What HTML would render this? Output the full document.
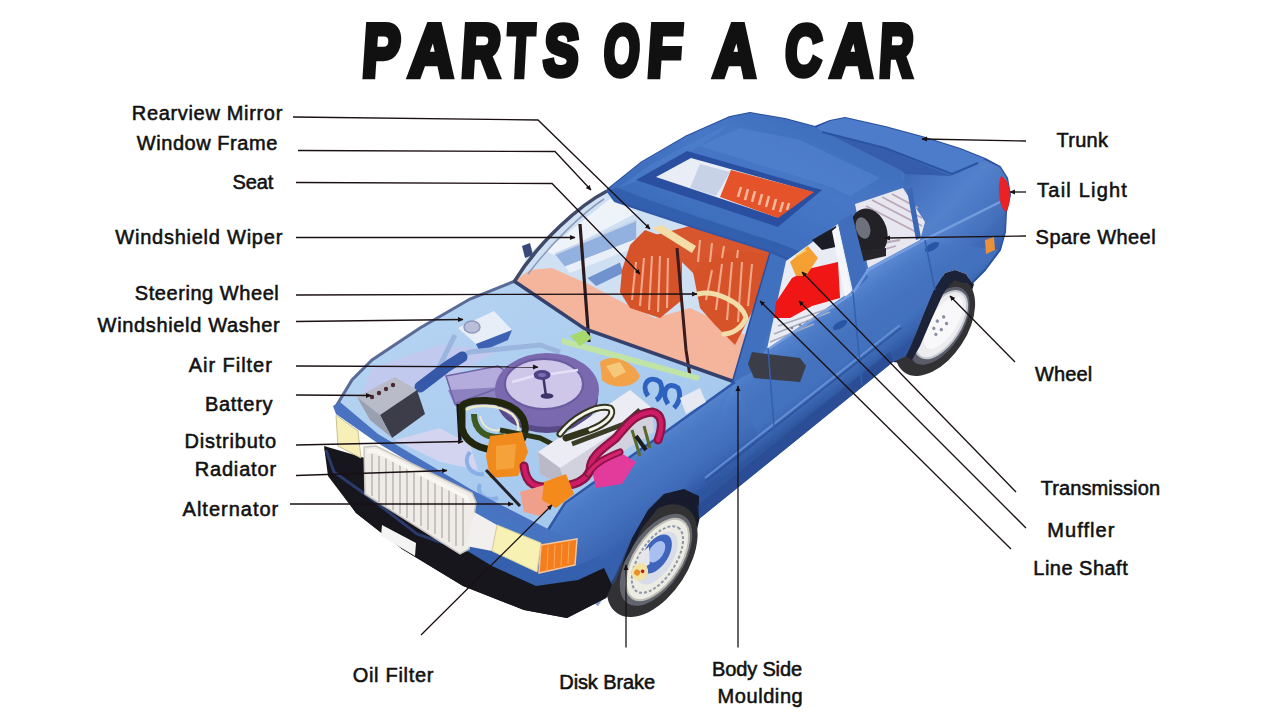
<!DOCTYPE html>
<html><head><meta charset="utf-8">
<style>
html,body{margin:0;padding:0;background:#fff;}
body{width:1280px;height:720px;overflow:hidden;font-family:"Liberation Sans",sans-serif;}
svg{display:block}
.lbl{font-family:"Liberation Sans",sans-serif;font-size:20px;fill:#111;stroke:#111;stroke-width:0.55px;}
.ln{stroke:#1a1014;stroke-width:1.3;fill:none;}
.ttl{font-family:"Liberation Sans",sans-serif;font-weight:bold;font-size:70px;fill:#111;stroke:#111;stroke-width:6px;stroke-linejoin:miter;}
</style></head><body>
<svg width="1280" height="720" viewBox="0 0 1280 720">
<defs>
<marker id="ah" viewBox="0 0 10 10" refX="9" refY="5" markerWidth="5.5" markerHeight="5.5" orient="auto-start-reverse" markerUnits="userSpaceOnUse"><path d="M0,0.5 L10,5 L0,9.5 z" fill="#1a1014"/></marker>
</defs>
<rect width="1280" height="720" fill="#fff"/>
<!--TITLE-->
<g id="title">
<g transform="translate(361.2,75.8) scale(0.796,1.056) skewX(-5)"><text class="ttl" x="0" y="0">P</text></g>
<g transform="translate(408.2,75.8) scale(0.880,1.056) skewX(-5)"><text class="ttl" x="0" y="0">A</text></g>
<g transform="translate(460.2,75.8) scale(0.768,1.056) skewX(-5)"><text class="ttl" x="0" y="0">R</text></g>
<g transform="translate(505.8,75.8) scale(0.635,1.056) skewX(-5)"><text class="ttl" x="0" y="0">T</text></g>
<g transform="translate(542.5,74.9) scale(0.745,1.018) skewX(-5)"><text class="ttl" x="0" y="0">S</text></g>
<g transform="translate(602.7,74.9) scale(0.655,1.018) skewX(-5)"><text class="ttl" x="0" y="0">O</text></g>
<g transform="translate(646.2,75.8) scale(0.800,1.056) skewX(-5)"><text class="ttl" x="0" y="0">F</text></g>
<g transform="translate(712.9,75.8) scale(0.837,1.056) skewX(-5)"><text class="ttl" x="0" y="0">A</text></g>
<g transform="translate(784.0,74.9) scale(0.721,1.018) skewX(-5)"><text class="ttl" x="0" y="0">C</text></g>
<g transform="translate(830.1,75.8) scale(0.837,1.056) skewX(-5)"><text class="ttl" x="0" y="0">A</text></g>
<g transform="translate(878.3,75.8) scale(0.666,1.056) skewX(-5)"><text class="ttl" x="0" y="0">R</text></g>
</g>
<!--CAR-->
<g id="car">
<defs>
<linearGradient id="gBody" x1="0" y1="0" x2="1" y2="1"><stop offset="0" stop-color="#4f7fcb"/><stop offset="1" stop-color="#3c69b5"/></linearGradient>
<linearGradient id="gRoof" x1="0" y1="1" x2="1" y2="0"><stop offset="0" stop-color="#3565b4"/><stop offset="0.6" stop-color="#4677c6"/><stop offset="1" stop-color="#3a68b4"/></linearGradient>
<linearGradient id="gBay" x1="0" y1="0" x2="1" y2="1"><stop offset="0" stop-color="#b9d6f3"/><stop offset="1" stop-color="#9fc4ec"/></linearGradient>
<filter id="soft" x="-5%" y="-5%" width="110%" height="110%"><feGaussianBlur stdDeviation="0.7"/></filter>
</defs>
<g filter="url(#soft)">
<!-- underbody / bumper shadow -->
<path d="M324,446 L330,476 L356,513 L402,549 L463,586 L524,610 L567,618 L606,598 L640,560 L600,520 L440,480 Z" fill="#15151f"/>
<!-- wheel wells -->
<path d="M702,508 L699,494 L684,487 L664,492 L648,508 L632,536 L616,578 L640,600 L690,560 Z" fill="#171a2c"/>
<path d="M893,362 L905,335 L922,297 L938,278 L953,272 L966,276 L974,284 L960,330 L920,365 Z" fill="#171a2c"/>
<!-- rear wheel -->
<g transform="translate(936,325) rotate(-57)">
<ellipse cx="-2" cy="0" rx="55" ry="32" fill="#303035"/>
<ellipse cx="1" cy="3" rx="44" ry="23" fill="#5a5d68"/>
<ellipse cx="3" cy="4" rx="38" ry="19" fill="#ededf0" stroke="#c2c6d0" stroke-width="2"/>
<ellipse cx="6" cy="5" rx="30" ry="13" fill="#f8f8fa"/>
<g fill="#8a90a2"><circle cx="-4" cy="0" r="1.7"/><circle cx="4" cy="-1" r="1.7"/><circle cx="11" cy="2" r="1.7"/><circle cx="-1" cy="7" r="1.7"/><circle cx="7" cy="8" r="1.7"/><circle cx="-8" cy="5" r="1.7"/></g>
</g>
<!-- front wheel -->
<g transform="translate(653,559) rotate(-57)">
<ellipse cx="-2" cy="0" rx="63" ry="36" fill="#303035"/>
<ellipse cx="1" cy="3" rx="52" ry="27" fill="#62656e"/>
<ellipse cx="2" cy="4" rx="46" ry="23" fill="#ecebe4" stroke="#bdbdb4" stroke-width="2"/>
<ellipse cx="2" cy="4" rx="38" ry="18" fill="none" stroke="#8e96a8" stroke-width="2" stroke-dasharray="3 2"/>
<ellipse cx="3" cy="3" rx="30" ry="15" fill="#d8dce8"/>
<ellipse cx="6" cy="0" rx="22" ry="12" fill="#3f63bc"/>
<ellipse cx="8" cy="-1" rx="12" ry="7" fill="#a8c0f0"/>
<path d="M-20,-6 L-4,-14 L8,-10 L-6,0 Z" fill="#e6e6ea"/>
<ellipse cx="-18" cy="-4" rx="9" ry="8" fill="#f2e2a2"/>
<circle cx="-20" cy="-6" r="3" fill="#e8902a"/>
<circle cx="-16" cy="-2" r="1.8" fill="#b02020"/>
</g>
<!-- main body silhouette -->
<path d="M607,190 L642,162 L685,137 L730,117 L750,113 L785,119 L815,127 L830,121 L845,118 L885,127 L922,137 L960,149 L985,159 L1000,167 L1007,178 L1010,195 L1006,212 L1005,232 L1000,250 L985,270 L972,283
 L966,274 L955,270 L945,273 L934,290 L922,318 L912,343 L906,356 L893,362
 L699,519 L699,496 L684,489 L664,494 L648,510 L632,538 L614,578 L600,596 L565,606 L520,596 L440,565 L440,500 L470,490 L560,500 L735,382 L700,330 L600,250 Z" fill="url(#gBody)"/>
<!-- body outline -->
<path d="M607,190 L642,162 L685,137 L730,117 L750,113 L785,119 L815,127 L830,121 L845,118 L885,127 L922,137 L960,149 L985,159 L1000,167 L1007,178 L1010,195 L1006,212 L1005,232 L1000,250 L985,270 L972,283" fill="none" stroke="#2a4f9e" stroke-width="2" stroke-linejoin="round"/>
<!-- rear wheel arch shadow -->
<path d="M906,356 L912,343 L922,318 L934,290 L945,273 L955,270 L966,274 L972,283 L965,283 L954,280 L944,292 L932,318 L920,346 L912,360 Z" fill="#1a2038"/>
<!-- front wheel arch shadow -->
<path d="M699,519 L699,496 L684,489 L664,494 L648,510 L632,538 L622,565 L630,552 L642,528 L658,508 L678,499 L690,502 L695,514 Z" fill="#151a2e"/>
<!-- body shading -->
<defs>
<linearGradient id="gSide" gradientUnits="userSpaceOnUse" x1="868" y1="268" x2="918" y2="337"><stop offset="0" stop-color="#6a96dc" stop-opacity="0.8"/><stop offset="0.25" stop-color="#5483ce" stop-opacity="0.45"/><stop offset="0.7" stop-color="#3a66b2" stop-opacity="0"/><stop offset="1" stop-color="#264c94" stop-opacity="0.75"/></linearGradient>
<linearGradient id="gFender" gradientUnits="userSpaceOnUse" x1="640" y1="430" x2="690" y2="500"><stop offset="0" stop-color="#6f9be0" stop-opacity="0.8"/><stop offset="0.4" stop-color="#5080cc" stop-opacity="0.3"/><stop offset="1" stop-color="#2b52a0" stop-opacity="0.55"/></linearGradient>
<linearGradient id="gRear" gradientUnits="userSpaceOnUse" x1="900" y1="170" x2="1000" y2="260"><stop offset="0" stop-color="#355fac" stop-opacity="0.7"/><stop offset="0.45" stop-color="#5f8cd6" stop-opacity="0.55"/><stop offset="1" stop-color="#2d55a2" stop-opacity="0.8"/></linearGradient>
</defs>
<!-- side panel -->
<path d="M768,348 L868,268 L920,240 L1000,200 L1005,232 L1000,250 L985,270 L972,283 L966,274 L955,270 L945,273 L934,290 L922,318 L912,343 L906,356 L893,362 L699,519 L699,496 L684,489 L735,382 Z" fill="url(#gSide)"/>
<!-- fender -->
<path d="M735,382 L657,438 L600,478 L565,503 L548,530 L577,539 L575,590 L598,606 L616,580 L632,538 L648,510 L664,494 L684,489 L699,496 L760,440 Z" fill="url(#gFender)"/>
<!-- rear quarter / C pillar -->
<path d="M903,188 L905,172 L952,176 L985,160 L1000,167 L1007,178 L1010,195 L1006,212 L1005,232 L1000,250 L920,240 L925,222 Z" fill="url(#gRear)"/>
<path d="M820,132 L885,149 L952,176 L905,174 L900,170 L815,128 Z" fill="#2f58a6" opacity="0.8"/>
<!-- rocker dark band -->
<path d="M893,362 L699,519 L697,506 L890,351 Z" fill="#27488e" opacity="0.5"/>
<!-- body side moulding -->
<path d="M705,478 L900,325" stroke="#6d97dc" stroke-width="2" fill="none" opacity="0.8"/>
<path d="M706,481 L901,328" stroke="#2a4c94" stroke-width="1.5" fill="none" opacity="0.8"/>
<!-- ===== engine bay ===== -->
<path d="M335,408 L352,380 L372,360 L420,328 L470,299 L515,281 L585,328 L735,382 L657,438 L600,478 L565,503 L548,530 L470,490 L377,434 Z" fill="url(#gBay)"/>
<!-- left fender edge (thin) -->
<path d="M335,408 L352,380 L372,360 L420,328 L470,299 L515,281" fill="none" stroke="#5a6a96" stroke-width="3"/>
<!-- ===== windshield interior ===== -->
<path d="M607,192 L565,220 L528,255 L514,282 L585,328 L735,382 L776,250 L700,227 L642,208 Z" fill="#cfe0f2"/>
<!-- far side door interior -->
<path d="M545.0,251.2 L610.0,198.8 L637.5,212.5 L555.0,255.0 Z" fill="#eef3fa"/>
<path d="M555.0,254.2 L636.2,220.0 L636.2,239.0 L565.0,266.5 Z" fill="#93b1df"/>
<path d="M565.0,266.5 L636.2,239.0 L633.8,248.0 L570.0,273.0 Z" fill="#e9eff8"/>
<path d="M587.5,278.0 L620.0,262.5 L623.0,273.0 L596.2,286.0 Z" fill="#6f93cf"/>
<path d="M555.0,254.2 L636.2,220.0" stroke="#c9d6ea" stroke-width="2" fill="none"/>
<!-- dashboard -->
<path d="M516,280 L530,270 L552,268 L590,285 L622,302 L655,318 L690,308 L720,322 L745,335 L735,382 L585,330 Z" fill="#f5b49c"/>
<!-- rear seats -->
<path d="M655,235 L690,226 L770,250 L780,262 L772,290 L700,280 Z" fill="#d8572f"/>
<!-- front seat left -->
<path d="M622,270 L630,245 L645,230 L672,240 L682,262 L682,300 L660,318 L630,308 L620,292 Z" fill="#d6532b"/>
<!-- front seat right -->
<path d="M693,272 L705,258 L732,250 L768,254 L772,270 L752,312 L735,345 L715,325 L700,308 Z" fill="#d6532b"/>
<g stroke="#f2a888" stroke-width="2.1" fill="none"><path d="M636,262 L632,300"/><path d="M644,258 L640,306"/><path d="M652,256 L649,310"/><path d="M660,256 L658,312"/><path d="M668,258 L667,308"/><path d="M712,270 L706,300"/><path d="M722,264 L716,310"/><path d="M732,262 L727,320"/><path d="M742,262 L738,322"/><path d="M752,264 L748,306"/><path d="M700,240 L698,262"/><path d="M712,243 L710,262"/><path d="M724,246 L722,258"/><path d="M738,250 L737,258"/></g>
<!-- steering wheel -->
<path d="M698,294 C715,290 742,302 746,318 C742,328 732,334 724,334" fill="none" stroke="#f2dca8" stroke-width="5" stroke-linecap="round"/>
<!-- rearview mirror -->
<path d="M652,228 L662,225 L696,246 L692,253 Z" fill="#f4dca6"/>
<!-- wipers -->
<path d="M580,224 L589,342" stroke="#2a1a1e" stroke-width="3.2" fill="none"/>
<path d="M677,248 L686,350 L690,376" stroke="#3a1a1a" stroke-width="3" fill="none"/>
<!-- cowl line -->
<path d="M514,281 L585,329 L735,382" fill="none" stroke="#34416c" stroke-width="3.5"/>
<path d="M562,338 L600,348 L700,376 L698,381 L562,344 Z" fill="#bfe4a6"/><path d="M570,336 l14,-6 l8,8 l-12,8 z" fill="#a6d86c"/>
<!-- left A pillar -->
<path d="M607,191 C580,205 540,240 514,282" fill="none" stroke="#3f4a68" stroke-width="3.5"/><path d="M604,199 C584,212 552,242 528,274" fill="none" stroke="#8b9bbd" stroke-width="1.5"/>
<path d="M522,246 l8,-3 l3,12 l-8,3 z" fill="#3b4a78"/>
<!-- right A pillar -->
<path d="M771,249 L732,383 L752,372 L796,262 Z" fill="#3f6fbe"/><path d="M771,249 L732,383" stroke="#2c509c" stroke-width="1.5" fill="none"/>
<!-- ===== roof ===== -->
<path d="M607,190 L642,162 L685,137 L730,117 L750,113 L785,119 L815,127 L900,170 L905,186 L858,200 L800,264 L772,252 L700,229 L642,210 L615,201 Z" fill="url(#gRoof)"/>
<path d="M607,190 L615,201 L642,210 L700,229 L772,252 L800,264" fill="none" stroke="#2f57a6" stroke-width="2.5"/>
<!-- roof lip + highlight -->
<path d="M607,190 L615,201 L642,210 L700,229 L772,252 L800,264 L806,254 L778,243 L704,219 L646,199 L618,188 Z" fill="#315cab" opacity="0.85"/>
<path d="M740,128 L800,140 L880,178 L850,196 L828,186 L700,146 Z" fill="#5585d2" opacity="0.55"/>
<path d="M618,188 L650,165 L690,143 L730,124 L700,146 L640,180 Z" fill="#5585d2" opacity="0.4"/>
<!-- sunroof -->
<path d="M687,151 L822,190 L778,227 L636,180 Z" fill="#2b50a0"/>
<path d="M691,158 L812,192 L776,217 L656,177 Z" fill="#e9eef6"/>
<path d="M731,170 L814,192 L778,218 L720,197 Z" fill="#e4522a"/>
<path d="M700,164 L730,172 L716,196 L690,188 Z" fill="#c7d2e6"/>
<g stroke="#f6b898" stroke-width="2.6"><path d="M738,197 l3,-10"/><path d="M745,200 l3,-11"/><path d="M752,202 l3,-11"/><path d="M759,205 l3,-11"/><path d="M766,207 l3,-11"/><path d="M773,210 l3,-11"/><path d="M780,212 l3,-10"/><path d="M787,210 l2,-7"/></g>
<!-- ===== side windows ===== -->
<path d="M786,261 L838,224 L853,290 L767,349 Z" fill="#e9ecf4"/>
<path d="M812,240 L836,226 L840,246 L822,250 Z" fill="#1d1d26"/>
<path d="M776,302 L792,278 L812,268 L838,262 L840,298 L812,306 L790,318 L774,318 Z" fill="#f01414"/>
<path d="M790,262 L808,246 L818,258 L806,276 L796,276 Z" fill="#f4a030"/>
<path d="M796,256 l10,-6" stroke="#f8d070" stroke-width="2"/>
<g stroke="#a9adbc" stroke-width="1.6"><path d="M778,326 L836,306"/><path d="M774,334 L830,312"/><path d="M770,342 L814,324"/></g>
<g fill="#7e8294"><circle cx="792" cy="328" r="1.3"/><circle cx="800" cy="325" r="1.3"/><circle cx="808" cy="322" r="1.3"/><circle cx="816" cy="319" r="1.3"/></g>
<path d="M855,204 L903,188 L925,222 L920,240 L868,268 Z" fill="#e8e6ee"/>
<g stroke="#b9a8bc" stroke-width="1.8"><path d="M872,200 L922,226"/><path d="M866,206 L920,234"/><path d="M882,197 L922,218"/><path d="M892,194 L918,208"/><path d="M866,246 L900,240"/><path d="M867,254 L896,246"/></g>
<!-- spare wheel -->
<ellipse cx="869" cy="232" rx="18" ry="24" fill="#202026" transform="rotate(-18 869 232)"/>
<ellipse cx="863" cy="228" rx="7" ry="11" fill="#6e717c" transform="rotate(-18 863 228)"/>
<path d="M856,250 L886,248 L886,256 L860,262 Z" fill="#26262c"/>
<path d="M907,190 L912,188 L921,238 L916,240 Z" fill="#3b68b6"/>
<!-- B pillar -->
<path d="M838,222 L852,214 L868,278 L853,292 Z" fill="#3f6ebc"/>
<path d="M832,231 L838,226 L851,292 L845,297 Z" fill="#f5f6fa"/>
<!-- beltline highlight -->
<path d="M767,350 L853,293 L868,270 L920,242 L1000,202" fill="none" stroke="#7ba3e4" stroke-width="2.5" opacity="0.85"/>
<!-- trunk lid -->
<path d="M817,127 L830,121 L845,118 L885,127 L922,137 L960,149 L985,159 L978,163 L952,174 L885,148 L822,132 Z" fill="#4d7ccb"/>
<path d="M822,132 L885,148 L952,174 L978,163" fill="none" stroke="#2c53a2" stroke-width="2"/>
<!-- tail light -->
<path d="M1001,176 C1011,181 1013,200 1006,212 C999,208 997,186 1001,176 Z" fill="#ea2028"/>
<path d="M985,240 l9,-3 l1,13 l-9,4 z" fill="#e8903a"/>
<!-- right side mirror -->
<path d="M752,352 L800,358 L806,366 L800,382 L754,378 L748,364 Z" fill="#3a3d4a"/>
<!-- door handles -->
<ellipse cx="932" cy="247" rx="8" ry="3.5" transform="rotate(-30 932 247)" fill="#2c55a6"/>
<ellipse cx="840" cy="325" rx="8" ry="3.5" transform="rotate(-30 840 325)" fill="#2c55a6"/>
<!-- door lines -->
<path d="M853,292 L862,385" stroke="#335fae" stroke-width="1.5" fill="none"/>
<path d="M768,348 L775,440" stroke="#335fae" stroke-width="1.5" fill="none"/>
<path d="M925,240 L935,290" stroke="#335fae" stroke-width="1.5" fill="none"/>

<!-- inner fender lilac tint -->
<path d="M372,368 L440,345 L500,350 L455,374 L400,392 L360,400 Z" fill="#c9c6ee" opacity="0.7"/>
<!-- engine bay right edge line -->
<path d="M735,382 L657,438 L600,478 L565,503 L548,530" fill="none" stroke="#2f58a8" stroke-width="2.5"/>
<!-- ===== engine parts ===== -->
<!-- washer bottle -->
<path d="M458,328 L494,311 L512,330 L476,344 Z" fill="#e8eef8"/>
<path d="M476,344 L512,330 L508,340 L480,352 Z" fill="#3d62b4"/>
<ellipse cx="472" cy="327" rx="8" ry="6" fill="#b9bfd8" stroke="#8e96ba" stroke-width="1.5"/>
<path d="M455,335 L440,365 L470,352 L540,345 L560,352" fill="none" stroke="#9bb6de" stroke-width="5"/>
<!-- blue hose -->
<path d="M420,387 L445,368 L462,357" fill="none" stroke="#3558a8" stroke-width="11" stroke-linecap="round"/>
<!-- air filter inlet -->
<path d="M446,376 L498,366 L520,380 L520,402 L455,404 Z" fill="#b4acdc"/>
<path d="M448,390 L520,386 L520,404 L455,406 Z" fill="#8c82c0"/>
<path d="M446,376 L498,366 L520,380 L455,404 Z" fill="none" stroke="#6f64a8" stroke-width="1.5"/>
<!-- air filter -->
<ellipse cx="547" cy="398" rx="51" ry="35" fill="#584888"/>
<ellipse cx="547" cy="390" rx="52" ry="37" fill="#7a69ae"/>
<ellipse cx="544" cy="384" rx="39" ry="25" fill="#cfc7ea"/>
<ellipse cx="544" cy="384" rx="39" ry="25" fill="none" stroke="#6a5aa0" stroke-width="2"/>
<path d="M543,375 L546,396" stroke="#3e3468" stroke-width="2.5"/>
<ellipse cx="542" cy="375" rx="8.5" ry="5" fill="#4f4386"/>
<ellipse cx="542" cy="375" rx="4" ry="2" fill="#7a6eb0"/>
<ellipse cx="547" cy="396" rx="6.5" ry="2.8" fill="#3e3468"/>
<path d="M512,382 L534,376 M551,374 L578,370" stroke="#e6e0f6" stroke-width="2.5"/>
<!-- battery -->
<path d="M357,397 L395,377 L417,390 L380,415 Z" fill="#b9bcc8"/>
<path d="M380,415 L417,390 L425,414 L392,438 Z" fill="#3c3e48"/>
<path d="M357,397 L380,415 L392,438 L370,420 Z" fill="#9aa0b0"/>
<g fill="#4a2a30"><circle cx="372" cy="397" r="2.2"/><circle cx="379" cy="393" r="2.2"/><circle cx="386" cy="389" r="2.2"/><circle cx="393" cy="385" r="2.2"/></g>
<!-- radiator tank (light lilac) -->
<path d="M395,440 L440,428 L470,445 L478,470 L440,462 Z" fill="#d3d4f0"/>
<!-- dark wiring loops -->
<path d="M458,404 L460,440" stroke="#17171c" stroke-width="3.5" fill="none"/>
<path d="M462,406 C470,398 500,398 516,410 C530,422 528,442 510,448 C490,454 466,446 462,428 Z" fill="none" stroke="#23280f" stroke-width="7"/>
<path d="M466,410 C474,404 498,404 512,414 C522,424 520,438 506,443" fill="none" stroke="#ecebc8" stroke-width="2.5"/>
<path d="M474,414 C474,430 486,440 504,436" fill="none" stroke="#3c5a22" stroke-width="6"/>
<path d="M480,416 C482,426 490,432 500,430" fill="none" stroke="#e8e8d0" stroke-width="2"/>
<path d="M500,430 L540,438 L556,446" stroke="#2c3212" stroke-width="5" fill="none"/>
<!-- engine block -->
<path d="M538,452 L630,390 L652,408 L654,432 L566,488 L540,474 Z" fill="#d2d2de"/>
<path d="M538,452 L630,390 L652,408 L560,468 Z" fill="#ececf4"/>
<path d="M538,452 L560,468 L566,488 L540,474 Z" fill="#b9b9c8"/>
<path d="M560,434 C572,418 596,404 610,408 C616,414 606,424 590,430 L566,438" fill="none" stroke="#33361e" stroke-width="7" stroke-linecap="round"/>
<path d="M560,434 C572,418 596,404 610,408 C616,414 606,424 590,430" fill="none" stroke="#f4f4ea" stroke-width="3" stroke-linecap="round"/>
<path d="M572,444 L624,424 L640,410" fill="none" stroke="#3a3d26" stroke-width="5"/>
<!-- orange distributor -->
<path d="M490,436 L522,432 L528,452 L518,476 L490,478 L486,456 Z" fill="#f08a1e"/>
<path d="M496,446 L516,444 L514,468 L496,470 Z" fill="#f6a23a"/>
<!-- magenta hoses -->
<path d="M590,462 L616,450 L636,462 L622,484 L596,488 Z" fill="#e23a9c"/>
<path d="M524,466 C526,486 536,488 556,487 C572,486 586,482 590,470 C590,456 604,448 616,438 C628,424 634,414 652,412 C662,414 664,424 658,440" fill="none" stroke="#8a1244" stroke-width="9" stroke-linecap="round" stroke-linejoin="round"/>
<path d="M524,466 C526,486 536,488 556,487 C572,486 586,482 590,470 C590,456 604,448 616,438 C628,424 634,414 652,412 C662,414 664,424 658,440" fill="none" stroke="#cf1d66" stroke-width="4.5" stroke-linecap="round" stroke-linejoin="round"/>
<path d="M588,474 C596,462 606,458 620,452" fill="none" stroke="#8a1244" stroke-width="7" stroke-linecap="round"/>
<path d="M588,474 C596,462 606,458 620,452" fill="none" stroke="#d4226c" stroke-width="3.5" stroke-linecap="round"/>
<path d="M632,430 L640,456 M644,426 L650,448" stroke="#5a6a2a" stroke-width="3"/>
<path d="M636,436 L646,450" stroke="#1c1c1c" stroke-width="4"/>
<!-- orange bits near firewall -->
<path d="M600,362 C612,352 634,362 640,376 C636,388 612,390 602,380 Z" fill="#f2a24a"/>
<path d="M606,366 l14,-4 l6,10 l-12,6 z" fill="#f6c87a"/>
<!-- blue coils -->
<path d="M648,396 C640,384 650,374 660,382 C664,390 660,398 656,400 M668,404 C660,392 668,380 678,388 C682,396 678,404 674,408" fill="none" stroke="#2f62c0" stroke-width="5"/>
<path d="M680,398 L700,388 L706,402 L686,414 Z" fill="#e6e8f2"/>
<!-- oil filter + alternator -->
<path d="M520,492 L548,484 L560,500 L540,516 L524,512 Z" fill="#f0a08a"/>
<path d="M544,482 L566,474 L574,494 L556,508 L542,500 Z" fill="#f58a1e"/>
<path d="M486,470 L520,506" stroke="#20202a" stroke-width="3"/>
<path d="M470,452 C462,462 470,476 484,474 M480,484 C476,494 486,502 498,498" fill="none" stroke="#8aaee6" stroke-width="4"/>
<!-- ===== front face ===== -->
<!-- bumper blue band -->
<path d="M440,538 L492,551 L537,572 L576,566 L600,556 L604,570 L578,582 L536,588 L492,568 L440,552 Z" fill="#3560ae"/>
<!-- bumper black band -->
<path d="M324,446 L333,474 L365,496 L417,536 L469,552 L492,566 L536,586 L578,580 L604,568 L612,585 L606,598 L567,618 L524,610 L463,586 L402,549 L356,513 L328,476 Z" fill="#16161f"/>
<path d="M326,450 L334,472 L365,494 L417,534 L440,542" fill="none" stroke="#2a3a6a" stroke-width="3"/>
<!-- hood lip left-front (blue) -->
<path d="M333,406 L340,402 L378,434 L472,490 L550,530 L548,536 L470,498 L376,442 L336,414 Z" fill="#4a72c0"/>
<!-- left headlight -->
<path d="M336,415 L358,431 L361,458 L338,446 Z" fill="#f6f0b8" stroke="#c8c090" stroke-width="1"/>
<!-- grill -->
<path d="M364,447 L376,446 L472,493 L476,502 L469,549 L460,554 L365,494 Z" fill="#efece8" stroke="#c8c4c0" stroke-width="1.5"/>
<g stroke="#b7b2b4" stroke-width="1.4"><path d="M372,454 l0,42"/><path d="M379,456 l0,46"/><path d="M386,454 l0,52"/><path d="M393,458 l0,52"/><path d="M400,462 l0,52"/><path d="M407,466 l0,52"/><path d="M414,470 l0,52"/><path d="M421,474 l0,52"/><path d="M428,478 l0,52"/><path d="M435,482 l0,52"/><path d="M442,486 l0,52"/><path d="M449,490 l0,52"/><path d="M456,494 l0,52"/><path d="M463,498 l0,48"/></g>
<path d="M367,451 L376,451 L466,497 L469,505" fill="none" stroke="#f8f6f0" stroke-width="4"/>
<!-- white block -->
<path d="M474,512 L497,525 L492,551 L466,546 Z" fill="#f2f0ee"/>
<!-- right headlight -->
<path d="M497,525 L541,543 L537,572 L492,551 Z" fill="#f7f1b4" stroke="#d8d0a0" stroke-width="1"/>
<!-- indicator -->
<path d="M541,545 L577,539 L575,565 L539,573 Z" fill="#f47e1c" stroke="#f4c49a" stroke-width="1.5"/>
<g stroke="#f9a860" stroke-width="1"><path d="M548,546 l-1,24"/><path d="M555,545 l-1,23"/><path d="M562,544 l-1,22"/><path d="M569,542 l-1,22"/></g>
<!-- license plate -->
<path d="M382,525 L416,543 L415,556 L381,536 Z" fill="#f4f4f4"/>
</g>

</g>
<!--LINES-->
<g id="lines">
<path class="ln" d="M293,117 L538,120 L650,229" marker-end="url(#ah)"/>
<path class="ln" d="M298,150.5 L555,151.5 L591,190" marker-end="url(#ah)"/>
<path class="ln" d="M296,182.5 L552,183.5 L640,274" marker-end="url(#ah)"/>
<path class="ln" d="M296,237.5 L575,237.5" marker-end="url(#ah)"/>
<path class="ln" d="M296,295 L697,294" marker-end="url(#ah)"/>
<path class="ln" d="M296,321.5 L463,319.5" marker-end="url(#ah)"/>
<path class="ln" d="M296,366 L538,367" marker-end="url(#ah)"/>
<path class="ln" d="M296,395 L371,395.5" marker-end="url(#ah)"/>
<path class="ln" d="M296,445 L463,441.5" marker-end="url(#ah)"/>
<path class="ln" d="M296,475.5 L447,470.5" marker-end="url(#ah)"/>
<path class="ln" d="M290,504 L513,504" marker-end="url(#ah)"/>
<path class="ln" d="M421,635 L552,505" marker-end="url(#ah)"/>
<path class="ln" d="M626,647.5 L626,565" marker-end="url(#ah)"/>
<path class="ln" d="M738,647.5 L738,386" marker-end="url(#ah)"/>
<path class="ln" d="M1026,141 L922,139" marker-end="url(#ah)"/>
<path class="ln" d="M1026,192 L1010,192" marker-end="url(#ah)"/>
<path class="ln" d="M1026,236 L885,238" marker-end="url(#ah)"/>
<path class="ln" d="M1015,362 L950,296" marker-end="url(#ah)"/>
<path class="ln" d="M1016,492 L802,272" marker-end="url(#ah)"/>
<path class="ln" d="M1026,528 L799,301" marker-end="url(#ah)"/>
<path class="ln" d="M1011,549 L760,301" marker-end="url(#ah)"/>
</g>
<!--LABELS-->
<g id="labels">
<text class="lbl" x="131.8" y="120.2" textLength="150.5">Rearview Mirror</text>
<text class="lbl" x="136.8" y="149.7" textLength="140.5">Window Frame</text>
<text class="lbl" x="232.4" y="189.4" textLength="40.8">Seat</text>
<text class="lbl" x="115.3" y="244.3" textLength="167">Windshield Wiper</text>
<text class="lbl" x="134.8" y="299.5" textLength="144">Steering Wheel</text>
<text class="lbl" x="97.6" y="332.4" textLength="182">Windshield Washer</text>
<text class="lbl" x="188.8" y="372" textLength="83">Air Filter</text>
<text class="lbl" x="205" y="411.3" textLength="67.5">Battery</text>
<text class="lbl" x="184.4" y="447.7" textLength="91.7">Distributo</text>
<text class="lbl" x="194.7" y="476" textLength="81.4">Radiator</text>
<text class="lbl" x="182.6" y="515.8" textLength="95.6">Alternator</text>
<text class="lbl" x="352.7" y="681.6" textLength="80.8">Oil Filter</text>
<text class="lbl" x="559.3" y="688.6" textLength="95.7">Disk Brake</text>
<text class="lbl" x="712" y="675.7" textLength="90">Body Side</text>
<text class="lbl" x="717.5" y="703" textLength="85.2">Moulding</text>
<text class="lbl" x="1056.5" y="147.2" textLength="51.4">Trunk</text>
<text class="lbl" x="1037.1" y="197.4" textLength="89.8">Tail Light</text>
<text class="lbl" x="1035.6" y="244" textLength="120">Spare Wheel</text>
<text class="lbl" x="1035" y="380.7" textLength="57.3">Wheel</text>
<text class="lbl" x="1040.7" y="495" textLength="119.3">Transmission</text>
<text class="lbl" x="1047.3" y="537.3" textLength="67">Muffler</text>
<text class="lbl" x="1033.3" y="575" textLength="94.4">Line Shaft</text>
</g>
</svg>
</body></html>
